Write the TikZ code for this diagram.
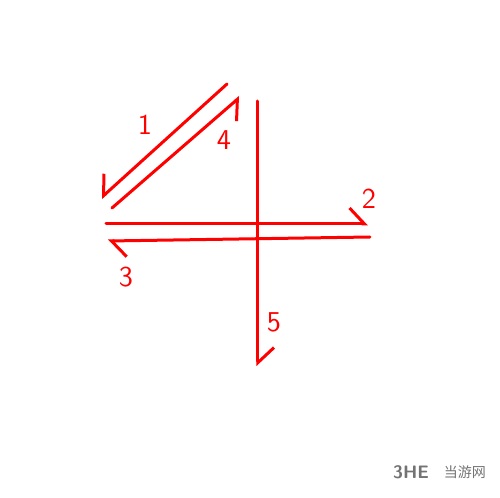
\documentclass[tikz,border=0pt]{standalone}
\usepackage{fontspec}
\newfontfamily\cjk{Noto Sans CJK SC}
\usetikzlibrary{arrows.meta}

\tikzset{
	pen/.style={draw, red, line width=1.5pt, line cap=round, line join=round},
	barbl/.style={-{Straight Barb[left, length=7.5pt, width=16pt, line width=1.5pt]}},
	barbr/.style={-{Straight Barb[right, length=7.5pt, width=16pt, line width=1.5pt]}},
	num/.style={red, font=\sffamily\Large}
}

\begin{document}
\begin{tikzpicture}[x=0.5pt, y=-0.5pt]
	\useasboundingbox (0,0) rectangle (500,498);

	\coordinate (a1) at (227,84);
	\coordinate (b1) at (101,198);
	\coordinate (a4) at (112,208);
	\coordinate (b4) at (240,97);
	\coordinate (a5) at (258,101);
	\coordinate (b5) at (258,366);
	\coordinate (a2) at (106,224);
	\coordinate (b2) at (368,224);
	\coordinate (a3) at (370,237);
	\coordinate (b3) at (108,241);

	\node[num] (one) at (145,125) {1};
	\node[num] (four) at (224,140) {4};
	\node[num] (two) at (369,199) {2};
	\node[num] (three) at (126,277) {3};
	\node[num] (five) at (274,322) {5};

	\node[black!55, font=\sffamily\bfseries\small] (logo) at (411,472) {3HE};
	\node[black!55, font=\cjk\scriptsize] (site) at (465,472) {当游网};

	\path[pen, barbr] (a1) -- (b1);
	\path[pen, barbr] (a4) -- (b4);
	\path[pen, barbl] (a2) -- (b2);
	\path[pen, barbl] (a3) -- (b3);
	\path[pen, barbl] (a5) -- (b5);

\end{tikzpicture}
\end{document}
